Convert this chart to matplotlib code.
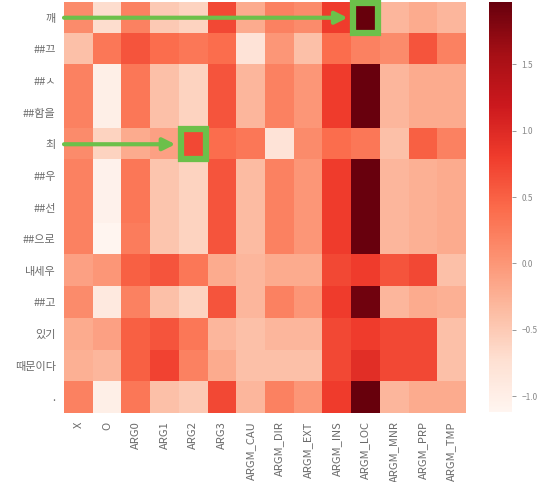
import matplotlib
matplotlib.use("Agg")
import matplotlib.pyplot as plt
import numpy as np
from matplotlib.patches import Rectangle

plt.rcParams["font.family"] = ["Noto Sans CJK KR", "DejaVu Sans"]

tokens = ["깨", "##끄", "##ㅅ", "##함을", "최", "##우", "##선", "##으로",
          "내세우", "##고", "있기", "때문이다", "."]
roles = ["X", "O", "ARG0", "ARG1", "ARG2", "ARG3", "ARGM_CAU", "ARGM_DIR",
         "ARGM_EXT", "ARGM_INS", "ARGM_LOC", "ARGM_MNR", "ARGM_PRP", "ARGM_TMP"]

# attention scores per token (rows) and role (columns)
row_kkae = [0.1, -0.7, 0.2, -0.5, -0.6, 0.7, -0.2, 0.2, 0.1, 0.8, 1.97, -0.3, -0.2, -0.3]
row_kkeu = [-0.4, 0.3, 0.6, 0.4, 0.3, 0.4, -0.8, 0.0, -0.4, 0.4, 0.2, 0.1, 0.6, 0.2]
row_s = [0.2, -1.0, 0.3, -0.4, -0.6, 0.6, -0.3, 0.2, 0.0, 0.8, 1.95, -0.3, -0.2, -0.2]
row_ham = [0.2, -1.0, 0.3, -0.4, -0.6, 0.6, -0.3, 0.2, 0.0, 0.8, 1.95, -0.3, -0.2, -0.2]
row_choe = [0.1, -0.6, -0.2, -0.1, 0.7, 0.4, 0.3, -0.8, 0.1, 0.4, 0.3, -0.4, 0.5, 0.2]
row_u = [0.2, -1.05, 0.3, -0.45, -0.6, 0.6, -0.35, 0.2, 0.0, 0.8, 1.95, -0.3, -0.25, -0.2]
row_seon = [0.2, -1.05, 0.3, -0.45, -0.6, 0.6, -0.35, 0.2, 0.0, 0.8, 1.95, -0.3, -0.25, -0.2]
row_euro = [0.2, -1.12, 0.25, -0.45, -0.6, 0.6, -0.35, 0.2, 0.0, 0.8, 1.95, -0.3, -0.25, -0.2]
row_naese = [-0.1, 0.0, 0.5, 0.6, 0.3, -0.2, -0.3, -0.2, -0.2, 0.7, 0.8, 0.6, 0.7, -0.4]
row_go = [0.1, -0.9, 0.2, -0.4, -0.6, 0.6, -0.3, 0.2, 0.0, 0.8, 1.9, -0.3, -0.2, -0.25]
row_itgi = [-0.2, -0.1, 0.5, 0.6, 0.3, -0.3, -0.4, -0.3, -0.3, 0.7, 0.8, 0.7, 0.7, -0.4]
row_ttae = [-0.25, -0.3, 0.5, 0.75, 0.2, -0.2, -0.4, -0.4, -0.4, 0.7, 0.95, 0.7, 0.7, -0.4]
row_dot = [0.2, -1.0, 0.3, -0.4, -0.5, 0.7, -0.3, 0.2, 0.0, 0.8, 1.97, -0.3, -0.2, -0.2]

# highlighted cells: (row, col)
highlights = [(0, 10), (4, 4)]

scores = np.array([row_kkae, row_kkeu, row_s, row_ham, row_choe, row_u, row_seon,
                   row_euro, row_naese, row_go, row_itgi, row_ttae, row_dot])

fig = plt.figure(figsize=(5.49, 4.82), dpi=100)
ax = fig.add_axes([0.1166, 0.143, 0.732, 0.853])
cax = fig.add_axes([0.891, 0.145, 0.042, 0.851])

im = ax.imshow(scores, cmap="Reds", aspect="auto",
               vmin=scores.min(), vmax=scores.max(), interpolation="nearest")
ax.set_xticks(range(len(roles)))
ax.set_xticklabels(roles, rotation=90)
ax.set_yticks(range(len(tokens)))
ax.set_yticklabels(tokens)
ax.tick_params(length=0, labelsize=8, colors="#6a6a6a", pad=6)
for s in ax.spines.values():
    s.set_visible(False)

green = "#6cc04a"
for r, c in highlights:
    ax.add_patch(Rectangle((c - 0.44, r - 0.47), 0.88, 0.95, fill=False,
                           edgecolor=green, linewidth=4.5, zorder=5, clip_on=False))
    ax.annotate("", xy=(c - 0.62, r), xytext=(-0.5, r),
                arrowprops=dict(arrowstyle="-|>", color=green, lw=3,
                                mutation_scale=18, shrinkA=0, shrinkB=0),
                zorder=6)

cb = fig.colorbar(im, cax=cax)
cb.outline.set_visible(False)
cb.set_ticks([-1.0, -0.5, 0.0, 0.5, 1.0, 1.5])
cb.ax.tick_params(labelsize=6, colors="#888888", length=3, width=0.6)

fig.savefig("out.png", dpi=100)
